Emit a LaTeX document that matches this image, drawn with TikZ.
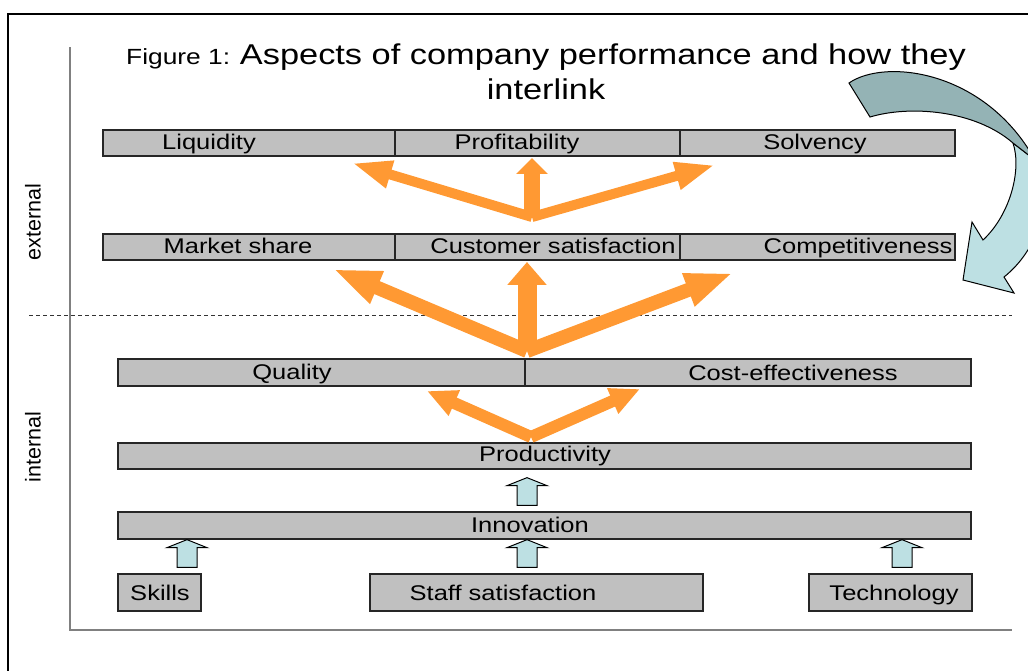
\documentclass[tikz,border=0pt]{standalone}
\usepackage{fontspec}
\setmainfont{Liberation Sans}[FakeStretch=1.2]
\newfontfamily\sidefont{Liberation Sans}
\usetikzlibrary{arrows.meta,calc}

\newlength\px
\setlength\px{0.02cm}

\definecolor{boxgray}{RGB}{192,192,192}
\definecolor{fanorange}{RGB}{255,153,51}
\definecolor{arrowcyan}{RGB}{189,224,227}
\definecolor{arrowteal}{RGB}{148,179,181}

\tikzset{
    frame/.style={draw=black, line width=2.6\px},
    axis/.style={draw=black!50, line width=2\px},
    split/.style={draw=black!80, line width=1\px, dash pattern=on 4\px off 3\px},
    bar/.style={draw=black!85, line width=1.3\px, fill=boxgray, inner sep=0pt, minimum height=26\px},
    lab/.style={inner sep=0pt, text height=8.6pt, text depth=0pt, font=\fontsize{12.1pt}{14pt}\selectfont},
    side/.style={inner sep=0pt, font=\sidefont\fontsize{12.25pt}{14pt}\selectfont},
    title/.style={inner sep=0pt, align=center, font=\fontsize{16.3pt}{20pt}\selectfont},
    fan/.style n args={3}{draw=fanorange, line width=#1\px, -{Triangle[length=#2, width=#3]}},
    uparr/.style={draw=black, line width=1\px, fill=arrowcyan},
    curvedarrow/.style={draw=black, line width=1\px}
}

\newcommand{\UpArr}[4]{%
    \path (#2.north -| #1,0) coordinate (ub) (#3.south -| #1,0) coordinate (ut);
    \draw[uparr] ($(ub)+(-10,-6)$) -- ($(ut)+(-10,#4+8)$) -- ($(ut)+(-20,#4+8)$) -- ($(ut)+(0,#4)$)
        -- ($(ut)+(20,#4+8)$) -- ($(ut)+(10,#4+8)$) -- ($(ub)+(10,-6)$) -- cycle;}

\begin{document}
\begin{tikzpicture}[x=0.02cm,y=-0.02cm]
                \useasboundingbox (0,0) rectangle (1028,670);
                \draw[frame] (8,672) -- (8,14) -- (1030,14);
                \draw[axis] (70,47) -- (70,630) -- (1012,630);
                \draw[split] (29,315) -- (1012,315);
                \node[title] (title) at (546,72) {{\fontsize{12.5pt}{15pt}\selectfont Figure 1: }Aspects of company performance and how they\\interlink};
                \node[side,rotate=90] (ext) at (33,222) {external};
                \node[side,rotate=90] (int) at (33,447) {internal};
                \node[bar,minimum width=292\px] (liq) at (249,143) {};
                \node[bar,minimum width=285\px] (prof) at (537.5,143) {};
                \node[bar,minimum width=275\px] (solv) at (817.5,143) {};
                \node[bar,minimum width=292\px] (mkt) at (249,247) {};
                \node[bar,minimum width=285\px] (cust) at (537.5,247) {};
                \node[bar,minimum width=275\px] (comp) at (817.5,247) {};
                \node[bar,minimum width=407\px,minimum height=27\px] (qual) at (321.5,372.5) {};
                \node[bar,minimum width=446\px,minimum height=27\px] (cost) at (748,372.5) {};
                \node[bar,minimum width=853\px] (prod) at (544.5,456) {};
                \node[bar,minimum width=853\px,minimum height=27\px] (innov) at (544.5,525.5) {};
                \node[bar,minimum width=83\px,minimum height=37\px] (skills) at (159.5,592.5) {};
                \node[bar,minimum width=333\px,minimum height=37\px] (staff) at (536.5,592.5) {};
                \node[bar,minimum width=163\px,minimum height=37\px] (tech) at (890.5,592.5) {};
                \node[lab] (liqt) at (209,142) {Liquidity};
                \node[lab] (proft) at (517,142) {Profitability};
                \node[lab] (solvt) at (815,142) {Solvency};
                \node[lab] (mktt) at (238,245.5) {Market share};
                \node[lab] (custt) at (553,245.5) {Customer satisfaction};
                \node[lab] (compt) at (858,245.5) {Competitiveness};
                \node[lab] (qualt) at (292,371.5) {Quality};
                \node[lab] (costt) at (793,373) {Cost-effectiveness};
                \node[lab] (prodt) at (545,454) {Productivity};
                \node[lab] (innovt) at (530,524.5) {Innovation};
                \node[lab] (skillst) at (160,593) {Skills};
                \node[lab] (stafft) at (503,593) {Staff satisfaction};
                \node[lab] (techt) at (894,593) {Technology};
                \coordinate (f1) at (532,217);
                \coordinate (f2) at (527,351);
                \coordinate (f3) at (531,437);
                \coordinate (liqtip) at (352,163);
                \coordinate (proftip) at (532,158);
                \coordinate (solvtip) at (715,165);
                \coordinate (mkttip) at (333,269);
                \coordinate (custtip) at (527,262);
                \coordinate (comptip) at (733,273);
                \coordinate (qualtip) at (427,391);
                \coordinate (costtip) at (640,389);
                \draw[fan={10}{22.7pt}{14.7pt}] (f1) -- (liqtip);
                \draw[fan={10}{22.7pt}{14.7pt}] (f1) -- (solvtip);
                \draw[fan={16}{9.1pt}{17.6pt}] (f1) -- (proftip);
                \draw[fan={14}{27.2pt}{18.1pt}] (f2) -- (mkttip);
                \draw[fan={14}{27.2pt}{18.1pt}] (f2) -- (comptip);
                \draw[fan={19}{13pt}{21.5pt}] (f2) -- (custtip);
                \draw[fan={12}{17pt}{14.7pt}] (f3) -- (qualtip);
                \draw[fan={12}{17pt}{14.7pt}] (f3) -- (costtip);
                \UpArr{187}{skills}{innov}{0}
                \UpArr{527}{staff}{innov}{0}
                \UpArr{902}{tech}{innov}{0}
                \UpArr{527}{innov}{prod}{8}
                \draw[curvedarrow,fill=arrowcyan] (1035,160) .. controls (1055,200) and (1038,250) .. (1004,277) -- (1014,293) -- (963,280)
                    -- (972,222) -- (983,240) .. controls (1010,215) and (1022,170) .. (1013,143) -- cycle;
                \draw[curvedarrow,fill=arrowteal] (849,83) .. controls (885,58) and (985,70) .. (1035,160) -- (1013,143)
                    .. controls (975,110) and (910,105) .. (870,117) -- cycle;
            \end{tikzpicture}
\end{document}
